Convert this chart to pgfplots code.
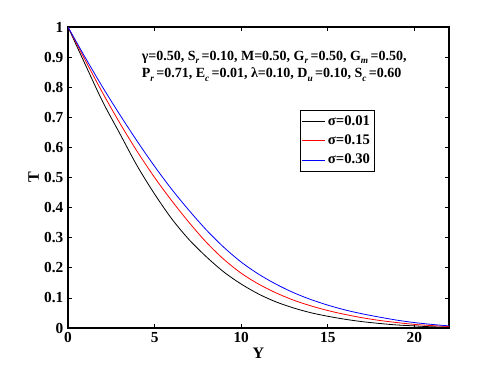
\documentclass[border=0pt]{standalone}
\usepackage{pgfplots}
\pgfplotsset{compat=1.18}
\usetikzlibrary{calc}
\usepackage{fontspec}
\setmainfont{Liberation Serif}
\newcommand{\subi}[1]{\raisebox{-0.6ex}{\scriptsize\bfseries\itshape #1}\,}
\begin{document}
\begin{tikzpicture}[x=0.75pt,y=0.75pt]
\begin{axis}[
    name=ax,
    scale only axis,
    width=285.75pt, height=225.75pt,
    xmin=0, xmax=22, ymin=0, ymax=1,
    xtick={0,5,10,15,20},
    ytick={0,0.1,0.2,0.3,0.4,0.5,0.6,0.7,0.8,0.9,1},
    yticklabels={0,0.1,0.2,0.3,0.4,0.5,0.6,0.7,0.8,0.9,1},
    xticklabels={0,5,10,15,20},
    tick align=inside,
    major tick length=3pt,
    tick style={black, line width=0.5pt},
    axis line style={line width=0.8pt},
    ticklabel style={font=\fontsize{11.5}{13}\selectfont\bfseries},
    xlabel={\fontsize{12}{14}\selectfont\bfseries Y},
    ylabel={\fontsize{12}{14}\selectfont\bfseries T},
    xlabel style={yshift=3pt},
    ylabel style={yshift=-3pt},
    legend style={at={(0.609,0.724)}, anchor=north west,
        font=\fontsize{11}{13}\selectfont\bfseries,
        draw=black, line width=0.6pt, inner sep=1pt, row sep=0pt,
        nodes={inner sep=2pt, text height=8pt, text depth=2.5pt},
        legend cell align=left},
    legend image post style={line width=0.6pt},
    every axis plot/.append style={line width=0.6pt, no marks, smooth, tension=0.5},
]
\addplot[black] coordinates {
(0,1.0)(1,0.875)(2,0.752)(3,0.645)(4,0.538)(5,0.445)(6,0.362)(7,0.293)
(8,0.236)(9,0.186)(10,0.146)(11,0.113)(12,0.087)(13,0.067)(14,0.051)
(15,0.039)(16,0.029)(17,0.021)(18,0.015)(19,0.010)(20,0.007)(21,0.004)(22,0.003)};
\addplot[red] coordinates {
(0,1.0)(1,0.889)(2,0.781)(3,0.680)(4,0.586)(5,0.500)(6,0.422)(7,0.350)
(8,0.284)(9,0.228)(10,0.182)(11,0.146)(12,0.117)(13,0.093)(14,0.074)
(15,0.058)(16,0.045)(17,0.034)(18,0.025)(19,0.018)(20,0.012)(21,0.008)(22,0.005)};
\addplot[blue] coordinates {
(0,1.0)(1,0.898)(2,0.800)(3,0.708)(4,0.620)(5,0.537)(6,0.460)(7,0.390)
(8,0.325)(9,0.268)(10,0.219)(11,0.179)(12,0.146)(13,0.118)(14,0.095)
(15,0.076)(16,0.060)(17,0.047)(18,0.036)(19,0.026)(20,0.018)(21,0.012)(22,0.007)};
\legend{σ=0.01,σ=0.15,σ=0.30}
\node[anchor=base west, inner sep=0pt, font=\fontsize{10.5}{12}\selectfont\bfseries]
  at (rel axis cs:0.193,0.890) {γ=0.50, S\subi{r}=0.10, M=0.50, G\subi{r}=0.50, G\subi{m}=0.50,};
\node[anchor=base west, inner sep=0pt, font=\fontsize{10.5}{12}\selectfont\bfseries]
  at (rel axis cs:0.193,0.831) {P\subi{r}=0.71, E\subi{c}=0.01, λ=0.10, D\subi{u}=0.10, S\subi{c}=0.60};
\end{axis}
\pgfresetboundingbox
\path[use as bounding box] ($(ax.south west)+(-68,-59)$) rectangle ($(ax.north east)+(31,27)$);
\end{tikzpicture}
\end{document}
